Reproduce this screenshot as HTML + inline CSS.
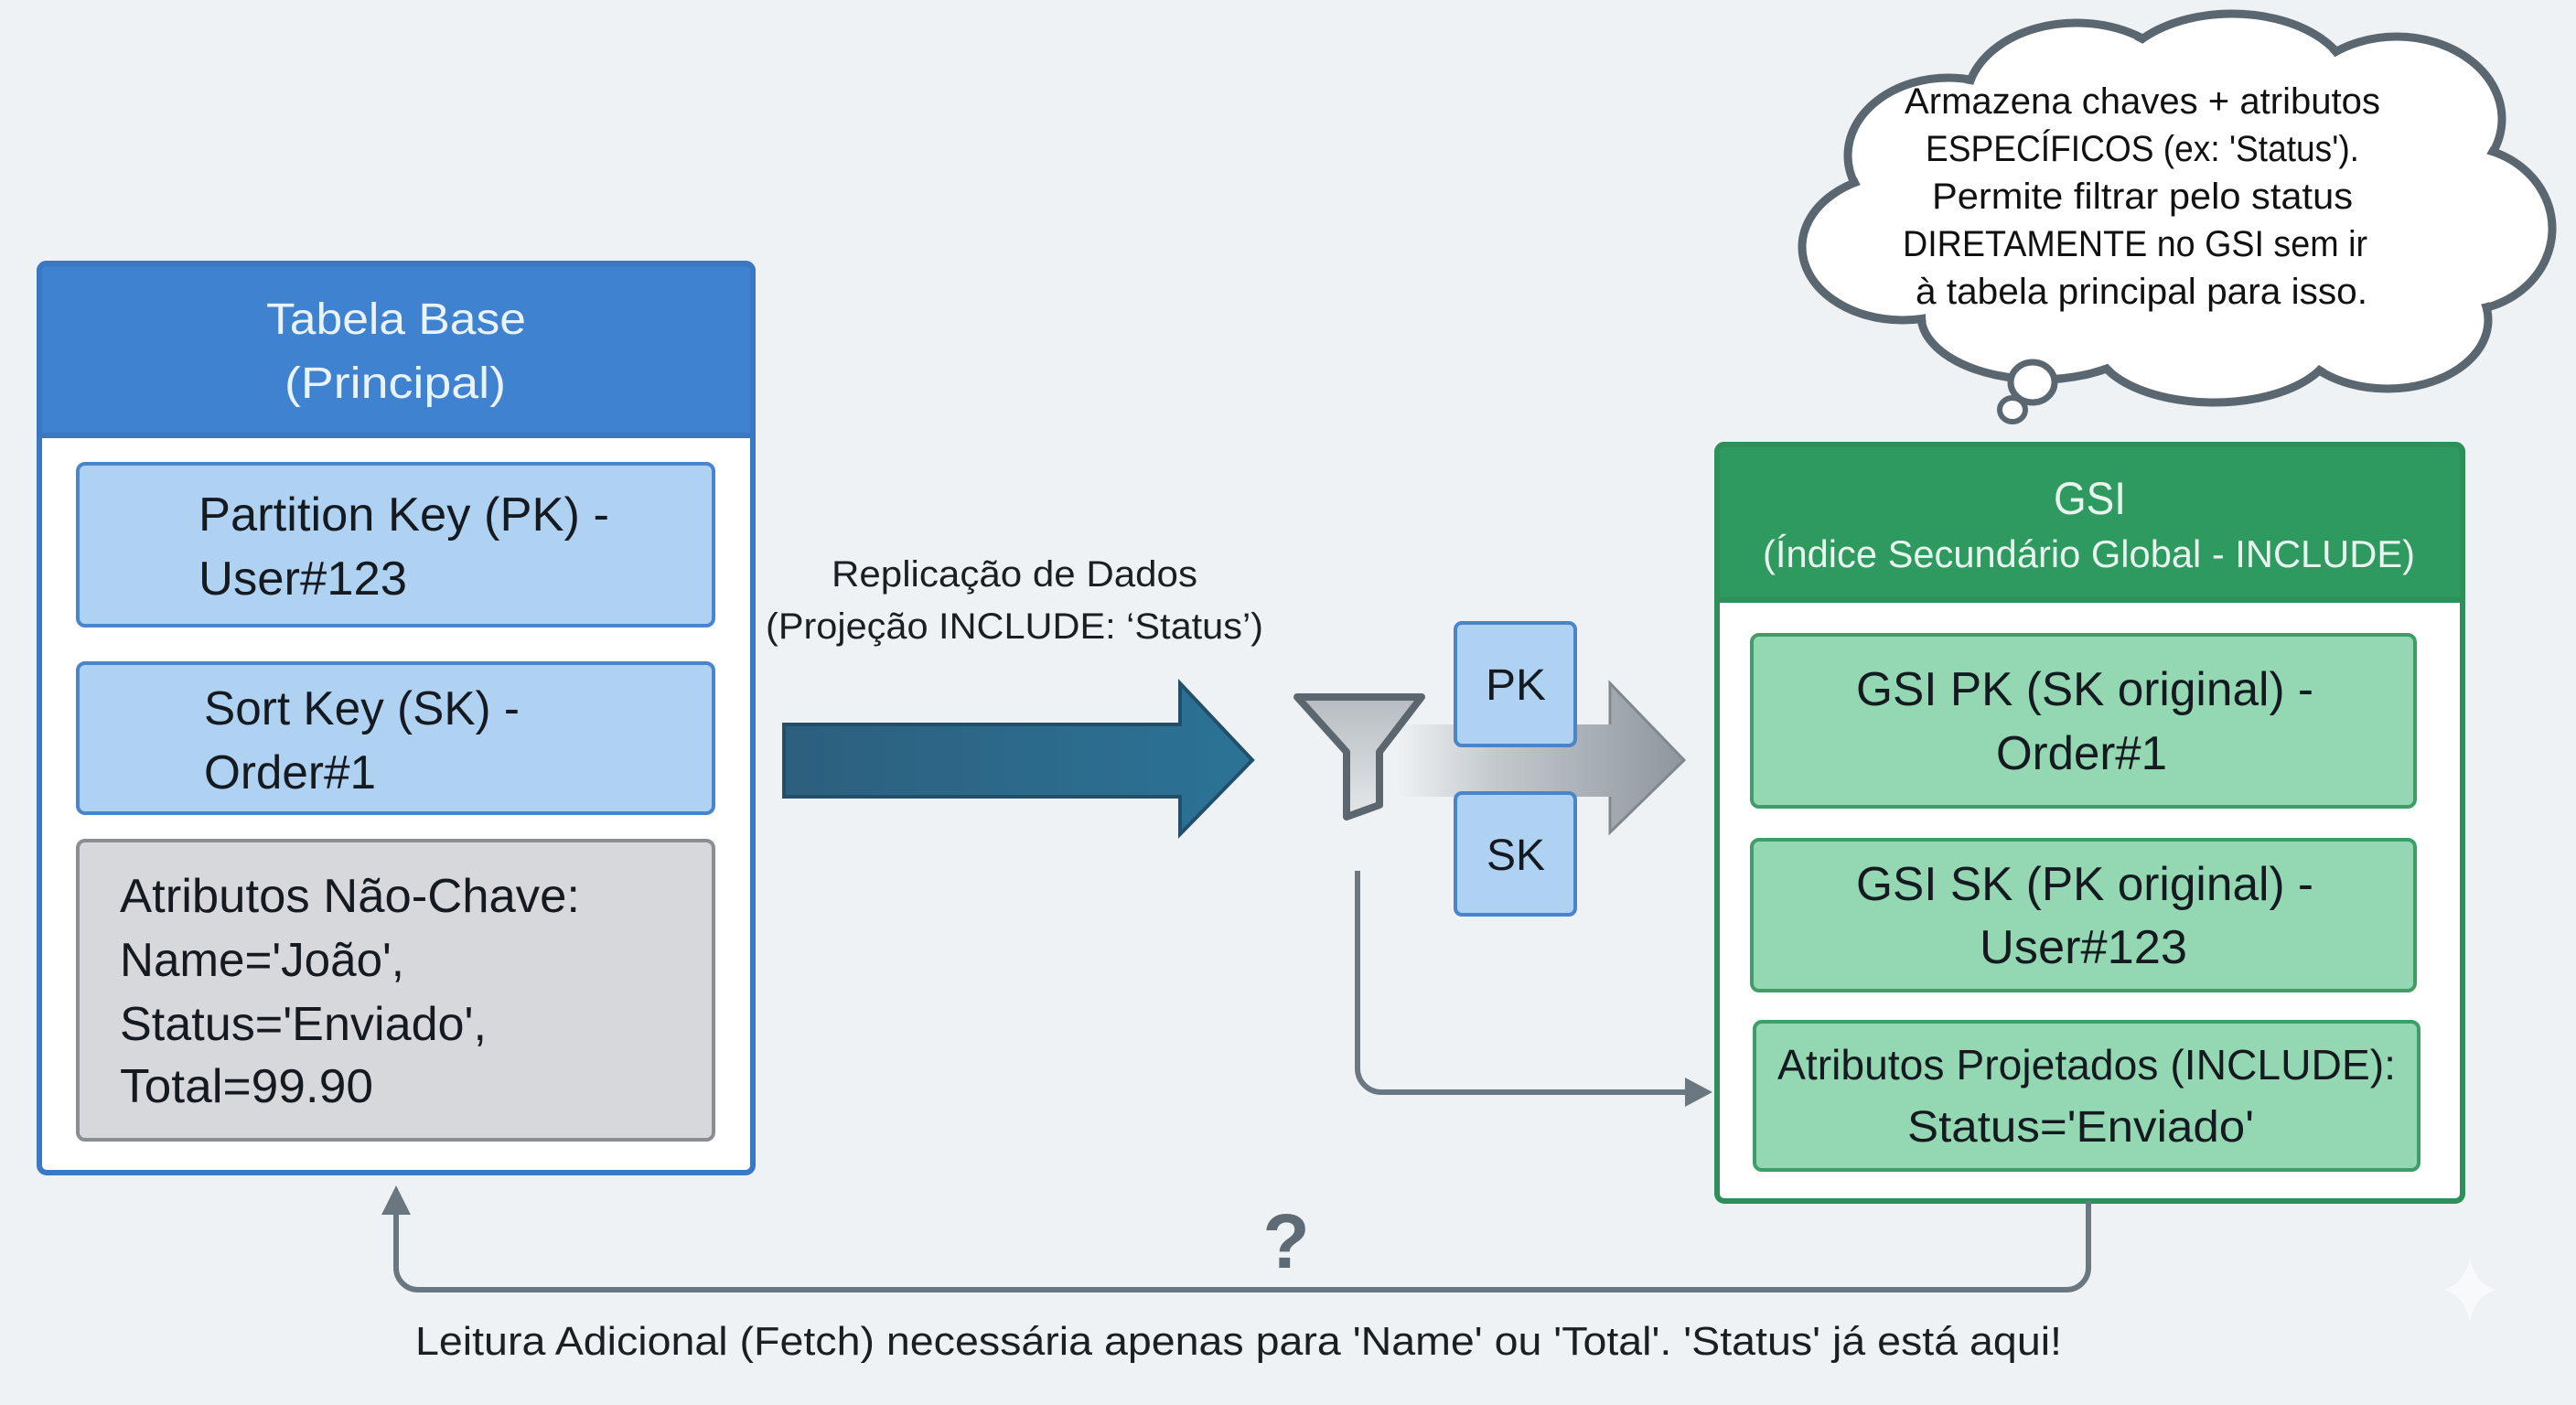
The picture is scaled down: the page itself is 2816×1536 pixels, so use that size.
<!DOCTYPE html>
<html><head><meta charset="utf-8"><style>
html,body{margin:0;padding:0;background:#eef2f5;}
svg{display:block;}
text{font-family:"Liberation Sans",sans-serif;}
</style></head><body>
<svg width="2816" height="1536" viewBox="0 0 2816 1536" xmlns="http://www.w3.org/2000/svg">
<defs>
<linearGradient id="tealg" x1="0" x2="1" y1="0" y2="0"><stop offset="0" stop-color="#2d5f7e"/><stop offset="1" stop-color="#2b7396"/></linearGradient>
<linearGradient id="grayg" x1="0" x2="1" y1="0" y2="0"><stop offset="0" stop-color="#eef2f5"/><stop offset="0.35" stop-color="#c3c8cc"/><stop offset="1" stop-color="#8e979e"/></linearGradient>
<linearGradient id="funnelg" x1="0" x2="0" y1="0" y2="1"><stop offset="0" stop-color="#b6bcc1"/><stop offset="1" stop-color="#e4e7ea"/></linearGradient>
</defs>
<rect width="2816" height="1536" fill="#eef2f5"/>

<!-- Tabela Base -->
<rect x="43" y="288" width="780" height="994" rx="8" fill="#ffffff" stroke="#3a78c6" stroke-width="6"/>
<path d="M43 296 a8 8 0 0 1 8 -8 h764 a8 8 0 0 1 8 8 V476 H43 Z" fill="#3f82d0" stroke="#3a78c6" stroke-width="6"/>
<text x="291" y="365" font-size="48" fill="#eaf2fb" textLength="284" lengthAdjust="spacingAndGlyphs">Tabela Base</text>
<text x="311" y="435" font-size="48" fill="#eaf2fb" textLength="242" lengthAdjust="spacingAndGlyphs">(Principal)</text>

<rect x="85" y="507" width="695" height="177" rx="8" fill="#b0d2f2" stroke="#4a85cc" stroke-width="4"/>
<text x="217" y="580" font-size="52" fill="#141a20" textLength="449" lengthAdjust="spacingAndGlyphs">Partition Key (PK) -</text>
<text x="217" y="650" font-size="52" fill="#141a20" textLength="228" lengthAdjust="spacingAndGlyphs">User#123</text>

<rect x="85" y="725" width="695" height="164" rx="8" fill="#b0d2f2" stroke="#4a85cc" stroke-width="4"/>
<text x="223" y="792" font-size="52" fill="#141a20" textLength="345" lengthAdjust="spacingAndGlyphs">Sort Key (SK) -</text>
<text x="223" y="862" font-size="52" fill="#141a20" textLength="188" lengthAdjust="spacingAndGlyphs">Order#1</text>

<rect x="85" y="919" width="695" height="327" rx="8" fill="#d6d8db" stroke="#8a8e92" stroke-width="4"/>
<text x="131" y="997" font-size="52" fill="#141a20" textLength="503" lengthAdjust="spacingAndGlyphs">Atributos Não-Chave:</text>
<text x="131" y="1067" font-size="52" fill="#141a20" textLength="311" lengthAdjust="spacingAndGlyphs">Name='João',</text>
<text x="131" y="1137" font-size="52" fill="#141a20" textLength="401" lengthAdjust="spacingAndGlyphs">Status='Enviado',</text>
<text x="131" y="1205" font-size="52" fill="#141a20" textLength="277" lengthAdjust="spacingAndGlyphs">Total=99.90</text>

<!-- Replicação -->
<text x="909" y="641" font-size="40" fill="#1a1f24" textLength="400" lengthAdjust="spacingAndGlyphs">Replicação de Dados</text>
<text x="837" y="698" font-size="40" fill="#1a1f24" textLength="544" lengthAdjust="spacingAndGlyphs">(Projeção INCLUDE: ‘Status’)</text>

<!-- big teal arrow -->
<path d="M857 792 H1290 V747 L1369 831 L1290 912 V871 H857 Z" fill="url(#tealg)" stroke="#234f69" stroke-width="4"/>

<!-- gray arrow -->
<path d="M1527 792 H1760 V747 L1841 831 L1760 910 V871 H1527 Z" fill="url(#grayg)" stroke="none"/>
<path d="M1760 792 V747 L1841 831 L1760 910 V871" fill="none" stroke="#7f888f" stroke-width="3"/>

<!-- funnel -->
<path d="M1418 762 H1554 L1508 822 V880 L1472 893 V822 Z" fill="url(#funnelg)" stroke="#5c666e" stroke-width="8" stroke-linejoin="round"/>

<!-- PK SK boxes -->
<rect x="1591" y="681" width="131" height="134" rx="7" fill="#b0d2f2" stroke="#4a85cc" stroke-width="4"/>
<text x="1624" y="765" font-size="48" fill="#141a20" textLength="66" lengthAdjust="spacingAndGlyphs">PK</text>
<rect x="1591" y="867" width="131" height="133" rx="7" fill="#b0d2f2" stroke="#4a85cc" stroke-width="4"/>
<text x="1625" y="951" font-size="48" fill="#141a20" textLength="64" lengthAdjust="spacingAndGlyphs">SK</text>

<!-- connector funnel -> GSI attrs -->
<path d="M1484 952 V1168 a26 26 0 0 0 26 26 H1845" fill="none" stroke="#6b7780" stroke-width="6"/>
<path d="M1842 1178 L1872 1194 L1842 1210 Z" fill="#6b7780"/>

<!-- GSI -->
<rect x="1877" y="486" width="815" height="827" rx="8" fill="#ffffff" stroke="#2f8f5a" stroke-width="6"/>
<path d="M1877 494 a8 8 0 0 1 8 -8 h799 a8 8 0 0 1 8 8 V656 H1877 Z" fill="#2e9a60" stroke="#2f8f5a" stroke-width="6"/>
<text x="2245" y="562" font-size="50" fill="#e8f5ee" textLength="79" lengthAdjust="spacingAndGlyphs">GSI</text>
<text x="1927" y="620" font-size="42" fill="#e8f5ee" textLength="713" lengthAdjust="spacingAndGlyphs">(Índice Secundário Global - INCLUDE)</text>

<rect x="1915" y="694" width="725" height="188" rx="8" fill="#94d8b3" stroke="#3f9e68" stroke-width="4"/>
<text x="2029" y="771" font-size="52" fill="#141a20" textLength="500" lengthAdjust="spacingAndGlyphs">GSI PK (SK original) -</text>
<text x="2182" y="841" font-size="52" fill="#141a20" textLength="187" lengthAdjust="spacingAndGlyphs">Order#1</text>

<rect x="1915" y="918" width="725" height="165" rx="8" fill="#94d8b3" stroke="#3f9e68" stroke-width="4"/>
<text x="2029" y="984" font-size="52" fill="#141a20" textLength="500" lengthAdjust="spacingAndGlyphs">GSI SK (PK original) -</text>
<text x="2164" y="1053" font-size="52" fill="#141a20" textLength="227" lengthAdjust="spacingAndGlyphs">User#123</text>

<rect x="1918" y="1117" width="726" height="162" rx="8" fill="#94d8b3" stroke="#3f9e68" stroke-width="4"/>
<text x="1943" y="1180" font-size="46" fill="#141a20" textLength="676" lengthAdjust="spacingAndGlyphs">Atributos Projetados (INCLUDE):</text>
<text x="2085" y="1248" font-size="48" fill="#141a20" textLength="379" lengthAdjust="spacingAndGlyphs">Status='Enviado'</text>

<!-- bottom connector -->
<path d="M2283 1313 V1386 a24 24 0 0 1 -24 24 H457 a24 24 0 0 1 -24 -24 V1325" fill="none" stroke="#6b7780" stroke-width="6"/>
<path d="M417 1328 L433 1296 L449 1328 Z" fill="#6b7780"/>
<text x="1406" y="1386" font-size="84" font-weight="bold" fill="#5f6b74" text-anchor="middle">?</text>
<text x="454" y="1481" font-size="44" fill="#1a1f24" textLength="1800" lengthAdjust="spacingAndGlyphs">Leitura Adicional (Fetch) necessária apenas para 'Name' ou 'Total'. 'Status' já está aqui!</text>

<!-- cloud -->
<g stroke="#5a6670" stroke-width="9" fill="#ffffff">
<ellipse cx="2130" cy="170" rx="110" ry="85"/>
<ellipse cx="2270" cy="110" rx="120" ry="85"/>
<ellipse cx="2440" cy="95" rx="130" ry="80"/>
<ellipse cx="2620" cy="130" rx="115" ry="90"/>
<ellipse cx="2690" cy="250" rx="100" ry="90"/>
<ellipse cx="2610" cy="350" rx="110" ry="75"/>
<ellipse cx="2420" cy="375" rx="130" ry="65"/>
<ellipse cx="2230" cy="345" rx="130" ry="70"/>
<ellipse cx="2080" cy="270" rx="110" ry="80"/>
</g>
<g fill="#ffffff">
<ellipse cx="2130" cy="170" rx="105" ry="80"/>
<ellipse cx="2270" cy="110" rx="115" ry="80"/>
<ellipse cx="2440" cy="95" rx="125" ry="75"/>
<ellipse cx="2620" cy="130" rx="110" ry="85"/>
<ellipse cx="2690" cy="250" rx="95" ry="85"/>
<ellipse cx="2610" cy="350" rx="105" ry="70"/>
<ellipse cx="2420" cy="375" rx="125" ry="60"/>
<ellipse cx="2230" cy="345" rx="125" ry="65"/>
<ellipse cx="2080" cy="270" rx="105" ry="75"/>
<rect x="2130" y="150" width="510" height="215"/>
</g>
<ellipse cx="2222" cy="418" rx="24" ry="22" fill="#fff" stroke="#5a6670" stroke-width="7"/>
<ellipse cx="2200" cy="448" rx="14" ry="13" fill="#fff" stroke="#5a6670" stroke-width="6"/>
<g font-size="40" fill="#111">
<text x="2082" y="124" textLength="520" lengthAdjust="spacingAndGlyphs">Armazena chaves + atributos</text>
<text x="2105" y="176" textLength="474" lengthAdjust="spacingAndGlyphs">ESPECÍFICOS (ex: 'Status').</text>
<text x="2112" y="228" textLength="460" lengthAdjust="spacingAndGlyphs">Permite filtrar pelo status</text>
<text x="2080" y="280" textLength="508" lengthAdjust="spacingAndGlyphs">DIRETAMENTE no GSI sem ir</text>
<text x="2094" y="332" textLength="494" lengthAdjust="spacingAndGlyphs">à tabela principal para isso.</text>
</g>

<!-- sparkle -->
<path d="M2700 1375 Q2706 1405 2730 1410 Q2706 1415 2700 1445 Q2694 1415 2670 1410 Q2694 1405 2700 1375 Z" fill="#f7f9fb"/>
</svg>
</body></html>
